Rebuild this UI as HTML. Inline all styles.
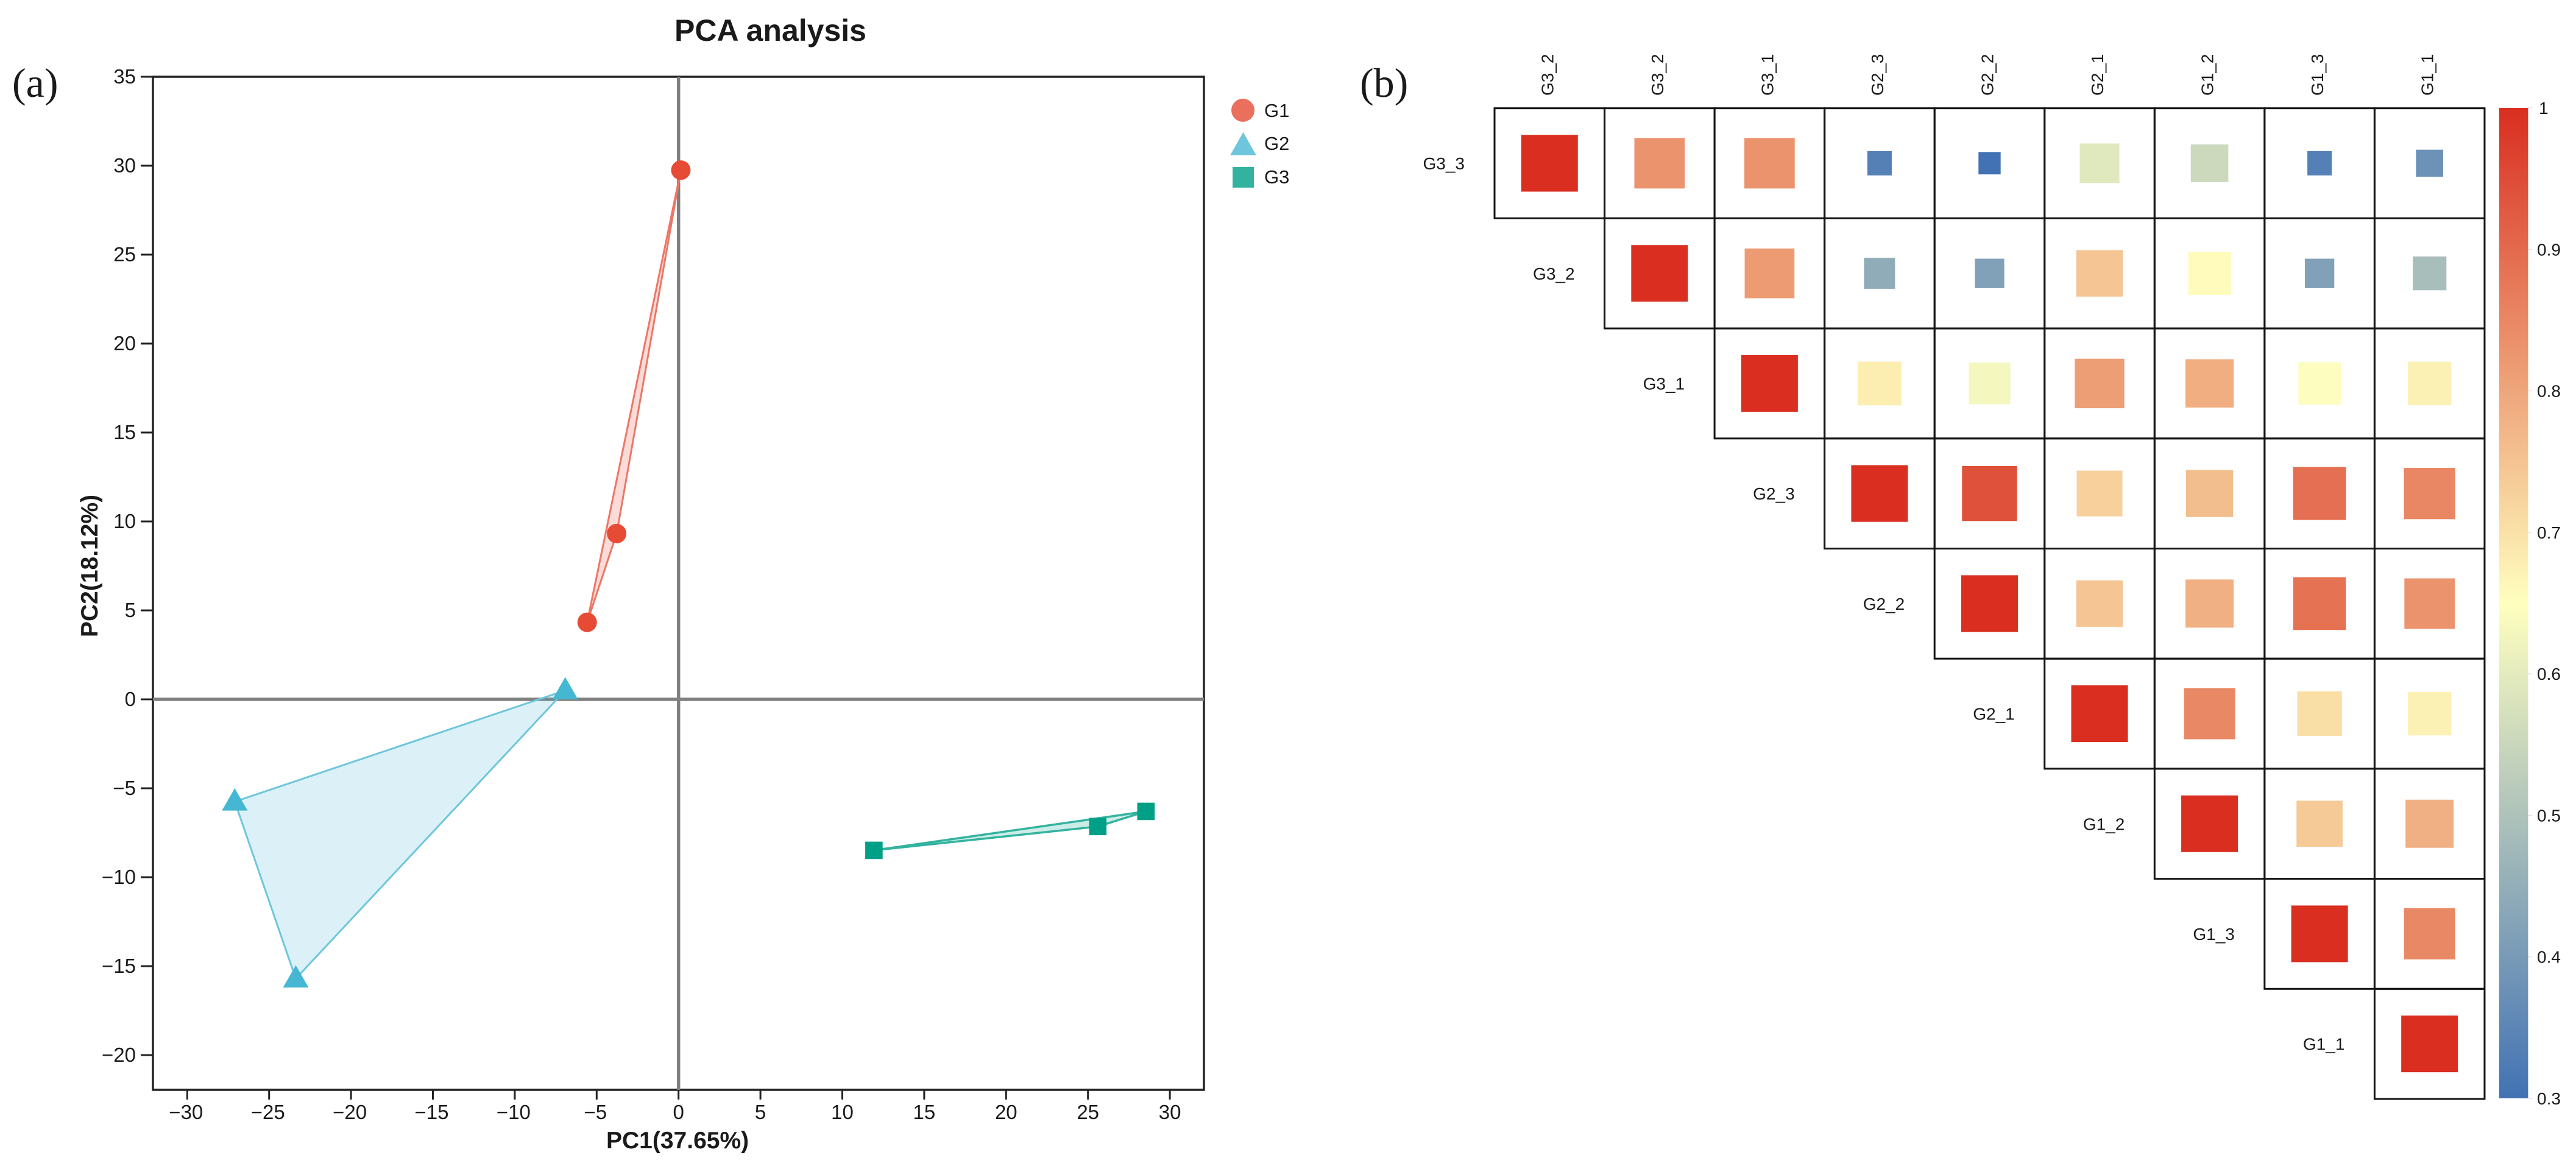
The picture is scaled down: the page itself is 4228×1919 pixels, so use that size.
<!DOCTYPE html>
<html lang="en">
<head>
<meta charset="utf-8">
<title>PCA analysis and correlation matrix</title>
<style>
html,body{margin:0;padding:0;background:#fff;width:4228px;height:1919px;overflow:hidden}
svg{display:block}
text{font-family:"Liberation Sans",sans-serif;fill:#1a1a1a}
.panel{font-family:"Liberation Serif",serif;font-size:68px}
</style>
</head>
<body>
<svg id="fig" xmlns="http://www.w3.org/2000/svg" width="4228" height="1919" viewBox="0 0 4228 1919">
  <defs>
    <linearGradient id="cbGrad" x1="0" y1="1" x2="0" y2="0"></linearGradient>
  </defs>
  <rect x="0" y="0" width="4228" height="1919" fill="#fff"/>
  <text class="panel" x="20" y="159">(a)</text>
  <text class="panel" x="2232" y="159">(b)</text>
  <text x="1107" y="67" font-size="50" font-weight="700">PCA analysis</text>
  <text x="995" y="1885" font-size="39" font-weight="700">PC1(37.65%)</text>
  <text transform="translate(160 1046) rotate(-90)" font-size="39" font-weight="700">PC2(18.12%)</text>
  <g id="pcaLayer"></g>
  <g id="legend">
    <circle cx="2040" cy="181" r="19" fill="#EA6F5D"/>
    <text x="2075" y="192" font-size="31">G1</text>
    <polygon points="2040.5,217 2019,255 2062,255" fill="#6EC6DC"/>
    <text x="2075" y="246" font-size="31">G2</text>
    <rect x="2023" y="274" width="35" height="34" fill="#33B39F"/>
    <text x="2075" y="301" font-size="31">G3</text>
  </g>
  <g id="heatLayer"></g>
  <g id="cbLayer"></g>
</svg>
<script>
/* ---------- PCA data ---------- */
const xTicks = [-30,-25,-20,-15,-10,-5,0,5,10,15,20,25,30];
const yTicks = [35,30,25,20,15,10,5,0,-5,-10,-15,-20];
const g1X = [-5.58,-3.78,0.14];
const g1Y = [4.33,9.32,29.75];
const g2X = [-6.92,-27.1,-23.37];
const g2Y = [0.5,-5.75,-15.7];
const g3X = [11.93,25.6,28.54];
const g3Y = [-8.49,-7.15,-6.3];

/* ---------- Correlation data ---------- */
const colLabels = ["G3_2","G3_2","G3_1","G2_3","G2_2","G2_1","G1_2","G1_3","G1_1"];
const rowLabels = ["G3_3","G3_2","G3_1","G2_3","G2_2","G2_1","G1_2","G1_3","G1_1"];
const corrRow1 = [1,0.811,0.811,0.335,0.30,0.593,0.556,0.335,0.38];
const corrRow2 = [1,0.797,0.443,0.416,0.726,0.653,0.416,0.488];
const corrRow3 = [1,0.67,0.63,0.792,0.765,0.646,0.665];
const corrRow4 = [1,0.933,0.71,0.739,0.875,0.834];
const corrRow5 = [1,0.726,0.761,0.871,0.811];
const corrRow6 = [1,0.83,0.689,0.665];
const corrRow7 = [1,0.719,0.761];
const corrRow8 = [1,0.83];
const corrRow9 = [1];
const colorbarTicks = [1,0.9,0.8,0.7,0.6,0.5,0.4,0.3];

/* ---------- helpers ---------- */
const NS = "http://www.w3.org/2000/svg";
function mk(tag, attrs, parent, txt){
  const e = document.createElementNS(NS, tag);
  for (const k in attrs) e.setAttribute(k, attrs[k]);
  if (txt !== undefined) e.textContent = txt;
  parent.appendChild(e);
  return e;
}
function fmt(v){ return v < 0 ? "\u2212" + Math.abs(v) : String(v); }

/* ---------- PCA scales ---------- */
const frame = {l:251, r:1976, t:126, b:1789};
function sx(v){ return 1113.7 + v * 26.88; }
function sy(v){ return 126 + (35 - v) * 29.2; }

const pca = document.getElementById("pcaLayer");

const frameRect = mk("rect",{x:frame.l,y:frame.t,width:frame.r-frame.l,height:frame.b-frame.t,fill:"none",stroke:"#222","stroke-width":3.5},pca);



xTicks.forEach(function(v){
  const t = mk("line",{x1:sx(v),x2:sx(v),y1:frame.b,y2:frame.b+16,stroke:"#222","stroke-width":3},pca);
  
  
  const l = mk("text",{x:sx(v)-(v<0?2:0),y:1837,"font-size":33,"text-anchor":"middle"},pca,fmt(v));
  
  
});
yTicks.forEach(function(v){
  const t = mk("line",{x1:frame.l-20,x2:frame.l,y1:sy(v),y2:sy(v),stroke:"#222","stroke-width":3},pca);
  
  
  const l = mk("text",{x:223,y:sy(v)+11,"font-size":33,"text-anchor":"end"},pca,fmt(v));
  
  
});

const zeroH = mk("line",{x1:frame.l,x2:frame.r,y1:sy(0),y2:sy(0),stroke:"#808080","stroke-width":5.5},pca);


const zeroV = mk("line",{x1:sx(0),x2:sx(0),y1:frame.t,y2:frame.b,stroke:"#808080","stroke-width":5.5},pca);



function hull(xs, ys, fill, stroke, sw){
  const pts = xs.map(function(x,i){ return sx(x).toFixed(1)+","+sy(ys[i]).toFixed(1); }).join(" ");
  return mk("polygon",{points:pts,fill:fill,"fill-opacity":0.2,stroke:stroke,"stroke-width":sw,"stroke-linejoin":"round"},pca);
}
const hullG1 = hull(g1X,g1Y,"#E64B35","#EC7766",3);


const hullG2 = hull(g2X,g2Y,"#4DBBD5","#6EC6DC",3);


const hullG3 = hull(g3X,g3Y,"#00A087","#33B39F",3.5);



g1X.forEach(function(x,i){
  const m = mk("circle",{cx:sx(x),cy:sy(g1Y[i]),r:16,fill:"#E64B35"},pca);
  
  
});
g2X.forEach(function(x,i){
  const cx = sx(x), cy = sy(g2Y[i]);
  const pts = cx+","+(cy-22)+" "+(cx-21)+","+(cy+14.7)+" "+(cx+21)+","+(cy+14.7);
  const m = mk("polygon",{points:pts,fill:"#45B7D2"},pca);
  
  
});
g3X.forEach(function(x,i){
  const m = mk("rect",{x:sx(x)-14.3,y:sy(g3Y[i])-14.3,width:28.6,height:28.6,fill:"#00A087"},pca);
  
  
});

/* ---------- Correlation matrix ---------- */
const gridL = 2453, gridT = 177.7, cellW = 180.55, cellH = 180.7;
const colorLow = [66,114,180], colorMid = [255,255,191], colorHigh = [217,46,32];
const vMin = 0.3, vMid = 0.65, vMax = 1;
function colorOf(v){
  const a = v < vMid ? colorLow : colorMid;
  const b = v < vMid ? colorMid : colorHigh;
  let t = v < vMid ? (v - vMin)/(vMid - vMin) : (v - vMid)/(vMax - vMid);
  t = Math.max(0,Math.min(1,t));
  if (v >= vMid) t = Math.pow(t, 0.85);
  const c = a.map(function(ch,i){ return Math.round(ch + (b[i]-ch)*t); });
  return "rgb("+c.join(",")+")";
}
function sizeOf(v){ return 93 - 90*Math.pow(1 - v, 1.3); }

const heat = document.getElementById("heatLayer");
const corrRows = [corrRow1,corrRow2,corrRow3,corrRow4,corrRow5,corrRow6,corrRow7,corrRow8,corrRow9];

colLabels.forEach(function(name,c){
  const cx = gridL + cellW*(c+0.5) + 6;
  const l = mk("text",{transform:"translate("+cx+" 157) rotate(-90)","font-size":28},heat,name);
  
  
});
rowLabels.forEach(function(name,r){
  const l = mk("text",{x:gridL + cellW*r - 49,y:gridT + cellH*(r+0.5) + 10,"font-size":28,"text-anchor":"end"},heat,name);
  
  
});
corrRows.forEach(function(vals,r){
  vals.forEach(function(v,k){
    const c = r + k;
    const x0 = gridL + cellW*c, y0 = gridT + cellH*r;
    const cell = mk("rect",{x:x0,y:y0,width:cellW,height:cellH,fill:"none",stroke:"#151515","stroke-width":3},heat);
    
    
    const s = sizeOf(v);
    const sq = mk("rect",{x:x0+cellW/2-s/2,y:y0+cellH/2-s/2,width:s,height:s,fill:colorOf(v)},heat);
    
    
  });
});

/* ---------- Colour bar ---------- */
const cbL = 4101.8, cbR = 4149.4;
function cbY(v){ return 1803 - (v - vMin) * 2322.9; }
const grad = document.getElementById("cbGrad");
mk("stop",{offset:"0%","stop-color":colorOf(vMin)},grad);
mk("stop",{offset:((vMid-vMin)/(vMax-vMin)*100)+"%","stop-color":colorOf(vMid)},grad);
mk("stop",{offset:"100%","stop-color":colorOf(vMax)},grad);

const cb = document.getElementById("cbLayer");
const cbRect = mk("rect",{x:cbL,y:cbY(vMax),width:cbR-cbL,height:cbY(vMin)-cbY(vMax),fill:"url(#cbGrad)"},cb);


colorbarTicks.forEach(function(v){
  const t = mk("line",{x1:cbR,x2:cbR+7,y1:cbY(v),y2:cbY(v),stroke:"#e2e2e2","stroke-width":1.5},cb);
  
  
  const l = mk("text",{x:v===1?4167:4164,y:cbY(v)+10,"font-size":28},cb,String(v));
  
  
});
</script>
</body>
</html>
